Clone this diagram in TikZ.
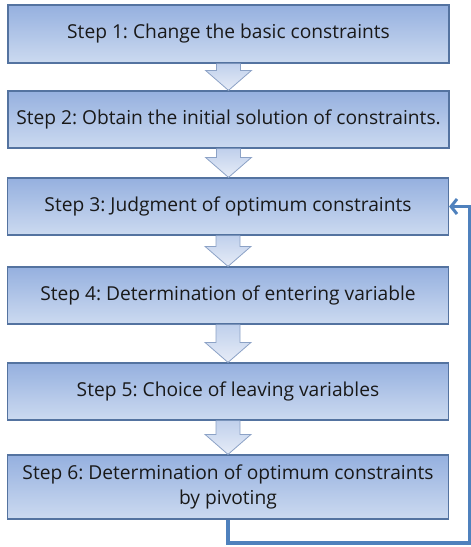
\documentclass[tikz,border=0pt]{standalone}
\usepackage{fontspec}
\setmainfont{Open Sans}
\usetikzlibrary{calc,arrows.meta}
\definecolor{boxtop}{RGB}{149,176,223}
\definecolor{boxbot}{RGB}{204,218,240}
\definecolor{boxline}{RGB}{84,115,160}
\definecolor{arrtop}{RGB}{192,208,236}
\definecolor{arrbot}{RGB}{230,236,247}
\definecolor{arrline}{RGB}{140,162,198}
\definecolor{loopblue}{RGB}{79,129,189}
\definecolor{txt}{RGB}{25,25,25}
\tikzset{
  stepbox/.style={draw=boxline, line width=1.2pt, top color=boxtop, bottom color=boxbot,
    minimum width=441pt, inner sep=0pt, align=center, text=txt,
    font=\fontsize{19.2pt}{25pt}\selectfont},
  fatarrow/.style={draw=arrline, line width=0.8pt, top color=arrtop, bottom color=arrbot, line join=miter},
  loopline/.style={draw=loopblue, line width=3.4pt, line join=miter}
}
% Block arrow from the bottom of one step box to the top of the next
\newcommand{\blockarrow}[2]{%
  \path let \p1=(#1.south), \p2=(#2.north) in
    [fatarrow] (\x1-12pt,\y1) -- (\x1-12pt,\y2+20pt) -- (\x1-23pt,\y2+20pt) -- (\x1,\y2)
    -- (\x1+23pt,\y2+20pt) -- (\x1+12pt,\y2+20pt) -- (\x1+12pt,\y1);}
\begin{document}
\begin{tikzpicture}[x=1pt,y=-1pt]
\useasboundingbox (0,0) rectangle (471,547);
\node[stepbox, minimum height=58pt] (b1) at (228.5,34) {Step 1:\ Change the basic constraints};
\node[stepbox, minimum height=57pt] (b2) at (228.5,119.5) {Step 2:\ Obtain the initial solution of constraints.};
\node[stepbox, minimum height=57pt] (b3) at (228,206.5) {Step 3:\ Judgment of optimum constraints};
\node[stepbox, minimum height=57pt] (b4) at (228,295.5) {Step 4:\ Determination of entering variable};
\node[stepbox, minimum height=57pt] (b5) at (228,391.5) {Step 5:\ Choice of leaving variables};
\node[stepbox, minimum height=64pt] (b6) at (228,487) {Step 6:\ Determination of optimum constraints\\by pivoting};
\blockarrow{b1}{b2}
\blockarrow{b2}{b3}
\blockarrow{b3}{b4}
\blockarrow{b4}{b5}
\blockarrow{b5}{b6}
% Return loop from the last step back to step 3
\coordinate (loopc) at (470,543);
\draw[loopline, -{Straight Barb[length=6pt,width=15pt,line width=3pt]}]
  (b6.south) |- (loopc) |- (b3.east);
\end{tikzpicture}
\end{document}
